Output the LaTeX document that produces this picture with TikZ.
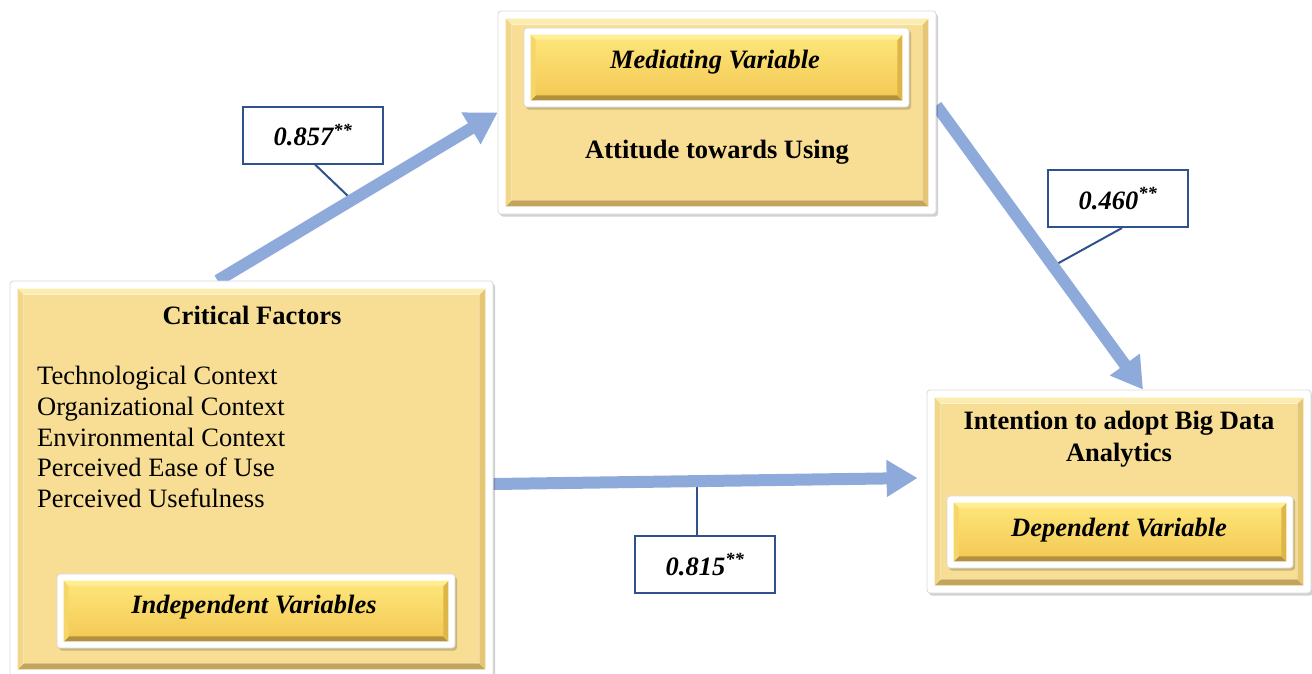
\documentclass[tikz,border=0pt]{standalone}
\usepackage{fontspec}
\setmainfont{Liberation Serif}
\usetikzlibrary{arrows.meta,calc,shadows}
\pgfdeclarelayer{background}
\pgfsetlayers{background,main}
\definecolor{arrowblue}{RGB}{142,170,219}
\definecolor{labelblue}{RGB}{47,82,143}
\definecolor{boxbase}{RGB}{247,222,148}
\definecolor{boxdark}{RGB}{196,164,90}
\definecolor{boxmid}{RGB}{228,198,116}
\definecolor{boxlight}{RGB}{251,236,176}
\definecolor{boxleft}{RGB}{241,215,136}
\definecolor{badgetop}{RGB}{253,228,120}
\definecolor{badgebot}{RGB}{244,202,86}
\definecolor{badgedark}{RGB}{178,144,60}
\definecolor{badgemid}{RGB}{222,182,72}
\definecolor{badgelight}{RGB}{255,238,150}
\definecolor{badgeleft}{RGB}{246,214,104}
\newcommand{\bevelfill}[8]{%
  \coordinate (pa) at ([shift={(#2,#2)}]#1.south west);
  \coordinate (pb) at ([shift={(-#2,-#2)}]#1.north east);
  \coordinate (pc) at (pa -| pb);
  \coordinate (pd) at (pa |- pb);
  \coordinate (qa) at ([shift={(#3,#3)}]pa);
  \coordinate (qb) at ([shift={(-#3,-#3)}]pb);
  \coordinate (qc) at ([shift={(-#3,#3)}]pc);
  \coordinate (qd) at ([shift={(#3,-#3)}]pd);
  \path[#4] (qa) rectangle (qb);
  \fill[#5] (pa) -- (pc) -- (qc) -- (qa) -- cycle;
  \fill[#6] (pc) -- (pb) -- (qb) -- (qc) -- cycle;
  \fill[#7] (pd) -- (pb) -- (qb) -- (qd) -- cycle;
  \fill[#8] (pa) -- (pd) -- (qd) -- (qa) -- cycle;
}
\newcommand{\outerbevel}[1]{\bevelfill{#1}{8pt}{6pt}{fill=boxbase}{boxdark}{boxmid}{boxlight}{boxleft}}
\newcommand{\badgebevel}[1]{\bevelfill{#1}{7pt}{5pt}{top color=badgetop,bottom color=badgebot}{badgedark}{badgemid}{badgelight}{badgeleft}}
\tikzset{
  frame/.style={draw=black!15, line width=0.8pt, fill=white, rounded corners=3pt, inner sep=0,
    drop shadow={shadow xshift=2pt, shadow yshift=-2.5pt, fill=black, opacity=0.18}},
  titletext/.style={font=\fontsize{26.5}{32}\selectfont\bfseries, align=center, inner sep=0},
  badgetext/.style={font=\fontsize{26.5}{32}\selectfont\bfseries\itshape, inner sep=0},
  listtext/.style={font=\fontsize{26.5}{30.75}\selectfont, align=left, inner sep=0, anchor=west},
  valbox/.style={draw=labelblue, line width=2pt, fill=white, minimum width=140, minimum height=57,
    inner sep=0, font=\fontsize{26.5}{32}\selectfont\bfseries\itshape},
  fatarrow/.style={draw=arrowblue, line width=12pt, -{Triangle[width=35pt,length=31pt]}},
  leader/.style={draw=labelblue, line width=2pt}
}
\begin{document}
\begin{tikzpicture}[x=1pt,y=-1pt]
\useasboundingbox (0,0) rectangle (1312,673);
% main boxes
\node[frame, minimum width=483, minimum height=396] (cf) at (251.5,479) {};
\outerbevel{cf}
\node[frame, minimum width=438, minimum height=203] (med) at (717,112.5) {};
\outerbevel{med}
\node[frame, minimum width=384, minimum height=203] (int) at (1119,491.5) {};
\outerbevel{int}
% badges
\node[frame, minimum width=398, minimum height=74] (cfb) at (256,611) {};
\badgebevel{cfb}
\node[frame, minimum width=385, minimum height=79] (medb) at (716.5,67.5) {};
\badgebevel{medb}
\node[frame, minimum width=346, minimum height=72] (intb) at (1120,532) {};
\badgebevel{intb}
% texts
\node[titletext] (cft) at (252,315) {Critical Factors};
\node[listtext] (cfl) at (37,437) {Technological Context\\Organizational Context\\Environmental Context\\Perceived Ease of Use\\Perceived Usefulness};
\node[badgetext] (cfbt) at (254,607) {Independent Variables};
\node[badgetext] (medbt) at (715,62) {Mediating Variable};
\node[titletext] (medt) at (717,152) {Attitude towards Using};
\node[titletext] (intt) at (1119,439) {Intention to adopt Big Data\\Analytics};
\node[badgetext] (intbt) at (1119,530) {Dependent Variable};
% arrow end points
\coordinate (a1s) at ($(cf.north west)!0.43!(cf.north east)$);
\coordinate (a1e) at (med.west);
\coordinate (a2s) at ([yshift=7pt]med.east);
\coordinate (a2e) at ($(int.north west)!0.5625!(int.north east)$);
\coordinate (a3s) at ([yshift=-5pt]cf.east);
\coordinate (a3e) at ([shift={(-9pt,13.5pt)}]int.west);
\coordinate (k1) at ($(a1s)!0.48!(a1e)$);
\coordinate (k2) at ($(a2s)!0.565!(a2e)$);
\coordinate (k3) at ($(a3s)!0.48!(a3e)$);
% value labels
\node[valbox] (l1) at (313,135) {0.857\textsuperscript{**}};
\node[valbox] (l2) at (1118,198.5) {0.460\textsuperscript{**}};
\node[valbox] (l3) at (705,564.5) {0.815\textsuperscript{**}};
\begin{pgfonlayer}{background}
  \draw[leader] ([xshift=2pt]l1.south) -- (k1);
  \draw[leader] ([xshift=4pt]l2.south) -- (k2);
  \draw[leader] ([xshift=-8pt]l3.north) -- ([xshift=-8pt]l3.north |- k3);
  \draw[fatarrow] (a1s) -- (a1e);
  \draw[fatarrow] (a2s) -- (a2e);
  \draw[fatarrow] (a3s) -- (a3e);
\end{pgfonlayer}
\end{tikzpicture}
\end{document}
